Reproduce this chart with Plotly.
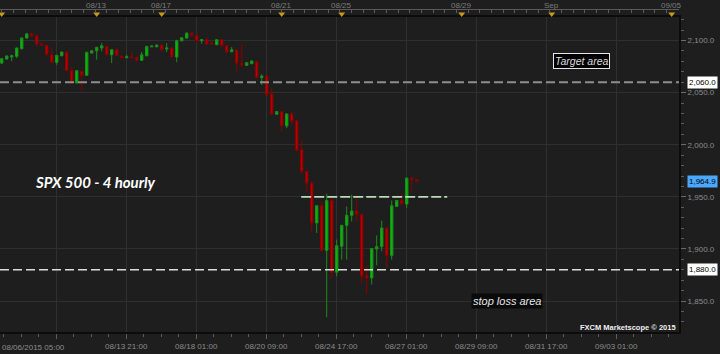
import plotly.graph_objects as go

# ---------------- data (4-hour bars, index = bar number) ----------------
opens = [2078.4, 2082.3, 2084.2, 2084.9, 2092.1, 2102.4, 2106.5, 2104.6, 2096.9, 2095.4,
         2086.4, 2079.1, 2085.4, 2089.0, 2071.1, 2059.3, 2070.5, 2066.7, 2088.0, 2090.2,
         2092.8, 2094.4, 2086.4, 2091.2, 2085.2, 2083.5, 2084.5, 2083.9, 2081.0, 2085.4,
         2094.0, 2094.0, 2095.7, 2091.9, 2092.8, 2084.2, 2099.8, 2102.4, 2107.2, 2104.6,
         2099.8, 2100.8, 2097.9, 2096.0, 2100.8, 2095.0, 2089.3, 2090.9, 2078.2, 2076.2,
         2077.8, 2079.7, 2064.4, 2066.0, 2048.7, 2029.3, 2031.8, 2018.1, 2029.6, 2023.2,
         1995.1, 1974.3, 1963.2, 1924.9, 1941.5, 1898.6, 1946.5, 1877.6, 1902.5, 1922.6,
         1932.2, 1936.4, 1933.1, 1874.4, 1872.2, 1900.0, 1902.2, 1920.1, 1893.8, 1940.8,
         1946.5, 1943.1, 1968.0, 1966.4]
highs = [2083.3, 2085.8, 2086.4, 2093.5, 2103.1, 2107.0, 2107.0, 2105.6, 2097.5, 2096.0,
         2092.8, 2086.3, 2089.5, 2089.5, 2074.3, 2071.6, 2071.0, 2089.3, 2090.7, 2094.0,
         2097.6, 2095.0, 2091.7, 2091.7, 2085.7, 2086.4, 2089.0, 2084.4, 2089.0, 2095.0,
         2095.2, 2096.2, 2096.2, 2097.6, 2093.3, 2100.8, 2103.2, 2107.7, 2107.7, 2105.6,
         2101.4, 2103.1, 2098.4, 2101.3, 2101.3, 2095.5, 2093.8, 2091.4, 2096.7, 2079.2,
         2081.0, 2080.2, 2067.6, 2066.5, 2054.2, 2032.3, 2032.3, 2030.1, 2031.5, 2023.7,
         2004.7, 1974.8, 1965.4, 1942.0, 1945.0, 1952.9, 1949.8, 1908.9, 1923.1, 1940.8,
         1952.0, 1950.4, 1933.6, 1883.3, 1900.8, 1913.0, 1927.1, 1920.6, 1946.5, 1947.0,
         1952.9, 1968.5, 1968.5, 1966.9]
lows = [2077.5, 2081.8, 2080.1, 2083.2, 2091.6, 2102.0, 2104.0, 2094.4, 2095.0, 2086.0,
        2078.4, 2076.8, 2085.0, 2070.6, 2058.8, 2058.8, 2051.9, 2066.0, 2087.6, 2081.6,
        2089.7, 2086.0, 2078.4, 2085.3, 2083.0, 2083.2, 2083.0, 2079.1, 2080.5, 2085.0,
        2093.6, 2093.6, 2089.7, 2089.0, 2083.7, 2079.1, 2099.3, 2102.0, 2104.1, 2097.6,
        2097.0, 2096.2, 2096.2, 2095.5, 2094.5, 2088.5, 2088.8, 2070.1, 2074.9, 2075.7,
        2077.3, 2063.9, 2057.4, 2047.3, 2028.8, 2028.8, 2012.6, 2015.9, 2019.0, 1993.9,
        1972.1, 1954.2, 1915.3, 1915.3, 1898.0, 1834.4, 1872.2, 1873.7, 1889.7, 1889.7,
        1926.4, 1926.4, 1865.8, 1856.2, 1865.8, 1884.3, 1897.7, 1881.8, 1889.7, 1940.3,
        1942.6, 1939.2, 1955.2, 1964.9]
closes = [2082.6, 2085.2, 2085.4, 2092.8, 2102.4, 2106.5, 2104.6, 2096.7, 2095.4, 2086.4,
          2079.1, 2085.8, 2089.0, 2071.1, 2059.3, 2071.1, 2066.7, 2088.7, 2090.2, 2093.5,
          2095.0, 2086.4, 2091.2, 2085.8, 2083.5, 2084.5, 2083.5, 2081.3, 2086.4, 2094.4,
          2094.7, 2095.7, 2091.2, 2092.8, 2084.2, 2099.8, 2102.7, 2107.2, 2104.6, 2099.8,
          2100.8, 2096.7, 2096.7, 2100.8, 2095.0, 2089.0, 2091.2, 2078.2, 2076.5, 2078.7,
          2080.4, 2064.4, 2066.0, 2047.8, 2029.3, 2031.8, 2018.1, 2029.6, 2022.2, 1994.4,
          1974.3, 1963.2, 1924.9, 1941.5, 1898.6, 1946.5, 1877.6, 1903.1, 1922.6, 1932.2,
          1936.4, 1933.1, 1873.7, 1872.2, 1900.3, 1902.2, 1920.1, 1893.8, 1941.5, 1946.5,
          1943.1, 1968.0, 1966.4, 1964.9]
bar_index = list(range(len(opens)))

# price axis ticks
price_ticks = [1850, 1900, 1950, 2000, 2050, 2100]
price_tick_labels = ["1,850.0", "1,900.0", "1,950.0", "2,000.0", "2,050.0", "2,100.0"]

# bottom time axis (bar index of each grid line) and labels
first_time_label = "08/06/2015 05:00"
time_tick_pos = [10.9, 24.9, 38.9, 52.9, 66.9, 80.9, 94.9, 108.9, 122.9]
time_tick_labels = ["", "08/13 21:00", "08/18 01:00", "08/20 09:00", "08/24 17:00",
                    "08/27 01:00", "08/29 09:00", "08/31 17:00", "09/03 01:00"]

# top date strip markers
day_marker_pos = [0, 19, 32, 56, 68, 92, 110, 134]
day_marker_labels = ["", "08/13", "08/17", "08/21", "08/25", "08/29", "Sep", "09/05"]

# horizontal levels
target_level = 2060.0
stop_level = 1880.0
breakout_level = 1950.0
last_price = closes[-1]

BG = "#1e1e1e"
GRID = "#2f2f2f"
TICKC = "#8c8c8c"
FONT = "Liberation Sans"

fig = go.Figure()
fig.add_trace(go.Candlestick(
    x=bar_index, open=opens, high=highs, low=lows, close=closes,
    increasing=dict(line=dict(color="#1f8a1f", width=1), fillcolor="#00bb00"),
    decreasing=dict(line=dict(color="#8a0000", width=1), fillcolor="#b80000"),
    whiskerwidth=0, showlegend=False, hoverinfo="skip",
))
# top strip day markers
fig.add_trace(go.Scatter(
    x=day_marker_pos, y=[0.45] * len(day_marker_pos), xaxis="x2", yaxis="y2",
    mode="markers", marker=dict(symbol="triangle-down", size=6, color="#c89b10",
                                line=dict(width=0)),
    showlegend=False, hoverinfo="skip", cliponaxis=False,
))

x_range = [-0.34, 135.46]
y_range = [1820.25, 2122.55]
ydom_top = 0.978

fig.update_layout(
    width=720, height=354,
    margin=dict(l=0, r=41, t=10, b=22),
    paper_bgcolor=BG, plot_bgcolor=BG,
    font=dict(family=FONT, size=8, color=TICKC),
    xaxis=dict(
        range=x_range, tickmode="array", tickvals=time_tick_pos, ticktext=time_tick_labels,
        showgrid=True, gridcolor=GRID, gridwidth=1, zeroline=False,
        ticks="outside", ticklen=5, tickcolor="#5c5c5c",
        minor=dict(ticks="outside", ticklen=3, dtick=3.5, tick0=time_tick_pos[0],
                   tickcolor="#5c5c5c", showgrid=False),
        showline=True, linecolor="#0c0c0c", linewidth=2, mirror=True,
        tickfont=dict(family=FONT, size=8, color=TICKC),
        rangeslider=dict(visible=False), fixedrange=True,
    ),
    xaxis2=dict(
        range=x_range, overlaying="x", anchor="y2", side="top",
        showticklabels=False, showgrid=False, zeroline=False,
        tickmode="linear", tick0=0, dtick=2.333,
        ticks="inside", ticklen=3, tickcolor="#5c5c5c",
        showline=True, linecolor="#5a5a5a", linewidth=1, fixedrange=True,
    ),
    yaxis=dict(
        domain=[0, ydom_top], range=y_range, side="right",
        tickmode="array", tickvals=price_ticks, ticktext=price_tick_labels,
        showgrid=True, gridcolor=GRID, zeroline=False,
        ticks="outside", ticklen=5, tickcolor="#6a6a6a",
        minor=dict(ticks="outside", ticklen=3, dtick=10, tick0=1850, tickcolor="#5c5c5c",
                   showgrid=False),
        showline=True, linecolor="#0c0c0c", linewidth=2,
        tickfont=dict(family=FONT, size=8, color=TICKC), fixedrange=True,
    ),
    yaxis2=dict(domain=[ydom_top, 1], range=[0, 1], visible=False, fixedrange=True),
)

# level lines
fig.add_shape(type="line", xref="paper", x0=0, x1=1, yref="y", y0=target_level, y1=target_level,
              line=dict(color="#8e8e8e", width=2, dash="9px,4px"))
fig.add_shape(type="line", xref="paper", x0=0, x1=1, yref="y", y0=stop_level, y1=stop_level,
              line=dict(color="#dcdcdc", width=1.6, dash="9px,4px"))
fig.add_shape(type="line", xref="x", x0=59.9, x1=89.1, yref="y", y0=breakout_level,
              y1=breakout_level, line=dict(color="#b9dcb9", width=1.6, dash="10px,3px"))

# right price boxes
for lvl, txt, bg in [(target_level, "2,060.0", "#ffffff"), (stop_level, "1,880.0", "#ffffff"),
                     (last_price, f"{last_price:,.1f}", "#4aa8ff")]:
    fig.add_annotation(xref="paper", x=1, xanchor="left", xshift=8, yref="y", y=lvl,
                       yanchor="middle", text=txt, showarrow=False, bgcolor=bg,
                       borderpad=1, font=dict(family=FONT, size=8, color="#000000"))

# top date labels
for pos, lab in zip(day_marker_pos, day_marker_labels):
    if lab:
        fig.add_annotation(xref="x", x=pos, yref="paper", y=1, yanchor="middle", yshift=5,
                           text=lab, showarrow=False,
                           font=dict(family=FONT, size=8, color="#7c7c7c"))

# first bottom label (left aligned)
fig.add_annotation(xref="paper", x=0, xanchor="left", yref="paper", y=0, yanchor="middle",
                   yshift=-15, text=first_time_label, showarrow=False,
                   font=dict(family=FONT, size=8, color=TICKC))

# chart texts
fig.add_annotation(xref="paper", x=0.0487, xanchor="left", yref="y", y=1964.4, yanchor="middle",
                   text="<b><i>SPX 500 - 4 hourly</i></b>", showarrow=False,
                   font=dict(family="Lato", size=15, color="#ffffff"))
fig.add_annotation(xref="paper", x=0.8557, xanchor="center", yref="y", y=2080.4,
                   yanchor="middle", text="<i>Target area</i>", showarrow=False,
                   bgcolor="#000000", bordercolor="#e6e6e6", borderwidth=1, borderpad=1,
                   font=dict(family=FONT, size=10.5, color="#dcdcdc"))
fig.add_annotation(xref="paper", x=0.7474, xanchor="center", yref="y", y=1850.0,
                   yanchor="middle", text="<i>stop loss area</i>", showarrow=False,
                   bgcolor="#0a0a0a", borderpad=1,
                   font=dict(family=FONT, size=11, color="#e6e6e6"))
fig.add_annotation(xref="paper", x=1, xanchor="right", xshift=-1, yref="paper", y=0.0155,
                   yanchor="middle", text="<b>FXCM Marketscope © 2015</b>", showarrow=False,
                   font=dict(family=FONT, size=7.5, color="#f0f0f0"))

fig.write_html("out.html")
